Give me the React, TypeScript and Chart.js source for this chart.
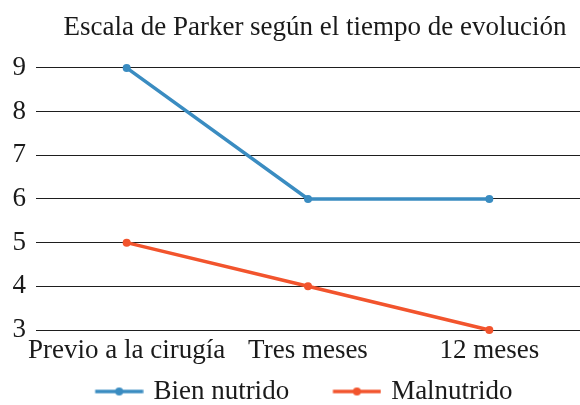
import { useEffect, useRef } from "react";
import { Chart, registerables } from "chart.js";

Chart.register(...registerables);

const titleText = "Escala de Parker según el tiempo de evolución";
const categories = ["Previo a la cirugía", "Tres meses", "12 meses"];
const seriesNames = ["Bien nutrido", "Malnutrido"];
const bienNutrido = [9, 6, 6];
const malnutrido = [5, 4, 3];
const yMin = 3;
const yMax = 9;

const BLUE = "#3A8CC1";
const RED = "#F2542D";
const FONT = '"Liberation Serif", "Times New Roman", serif';
const TEXT = "#1a1a1a";

// Legend sample: a short line with a dot, drawn to a small canvas.
function legendIcon(color: string): HTMLCanvasElement {
  const c = document.createElement("canvas");
  c.width = 86;
  c.height = 10;
  const ctx = c.getContext("2d")!;
  ctx.strokeStyle = color;
  ctx.lineWidth = 3.5;
  ctx.beginPath();
  ctx.moveTo(37.5, 5);
  ctx.lineTo(85.5, 5);
  ctx.stroke();
  ctx.fillStyle = color;
  ctx.beginPath();
  ctx.arc(61.5, 5, 4, 0, Math.PI * 2);
  ctx.fill();
  return c;
}

const positionBlocks = {
  id: "positionBlocks",
  afterLayout(chart: any) {
    const t = chart.titleBlock;
    if (t) {
      t.left = chart.chartArea.left + 14;
      t.right = chart.chartArea.right;
    }
    const lg = chart.legend;
    if (lg) {
      lg.left -= 5;
      lg.right -= 5;
    }
  },
};

export default function App() {
  const ref = useRef<HTMLCanvasElement | null>(null);

  useEffect(() => {
    document.body.style.margin = "0";
    if (!ref.current) return;
    const colors = [BLUE, RED];
    const chart = new Chart(ref.current, {
      type: "line",
      data: {
        labels: categories,
        datasets: [
          {
            label: seriesNames[0],
            data: bienNutrido,
            borderColor: BLUE,
            backgroundColor: BLUE,
            pointBackgroundColor: BLUE,
            borderWidth: 3.5,
            pointRadius: 4,
            pointBorderWidth: 0,
            tension: 0,
            clip: false,
          },
          {
            label: seriesNames[1],
            data: malnutrido,
            borderColor: RED,
            backgroundColor: RED,
            pointBackgroundColor: RED,
            borderWidth: 3.5,
            pointRadius: 4,
            pointBorderWidth: 0,
            tension: 0,
            clip: false,
          },
        ],
      },
      options: {
        responsive: false,
        animation: false,
        layout: {
          autoPadding: false,
          padding: { top: 0, left: 0, right: -4, bottom: -10 },
        },
        plugins: {
          title: {
            display: true,
            text: titleText,
            color: TEXT,
            font: { family: FONT, size: 27, weight: "normal" },
            padding: { top: 11.5, bottom: 24 },
          },
          legend: {
            position: "bottom",
            labels: {
              color: TEXT,
              font: { family: FONT, size: 27 },
              usePointStyle: true,
              pointStyleWidth: 78.5,
              padding: 10,
              generateLabels: (ch: any) =>
                Chart.defaults.plugins.legend.labels
                  .generateLabels(ch)
                  .map((l: any, i: number) => ({
                    ...l,
                    pointStyle: legendIcon(colors[i]),
                  })),
            },
          },
          tooltip: { enabled: false },
        },
        scales: {
          x: {
            offset: true,
            afterFit: (scale: any) => {
              scale.height = 38;
              scale.paddingRight = 0;
              scale.paddingLeft = 0;
            },
            grid: { display: false, drawTicks: false },
            border: { display: false },
            ticks: {
              color: TEXT,
              font: { family: FONT, size: 27 },
              padding: 5,
              maxRotation: 0,
              autoSkip: false,
            },
          },
          y: {
            min: yMin,
            max: yMax,
            afterFit: (scale: any) => {
              scale.width = 36;
            },
            border: { display: false },
            grid: { color: "#1e1e1e", lineWidth: 1, drawTicks: false },
            ticks: {
              stepSize: 1,
              color: TEXT,
              font: { family: FONT, size: 27 },
              padding: 10,
            },
          },
        },
      },
      plugins: [positionBlocks],
    } as any);
    return () => chart.destroy();
  }, []);

  return (
    <div style={{ width: 580, height: 405, overflow: "hidden" }}>
      <canvas ref={ref} width={580} height={405} style={{ display: "block" }} />
    </div>
  );
}
